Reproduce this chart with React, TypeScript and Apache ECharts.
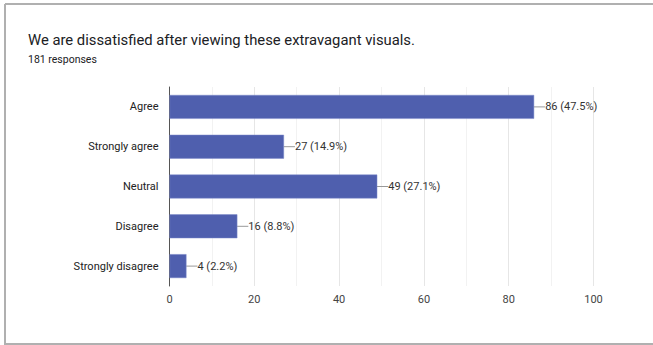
import React, { useEffect, useRef } from "react";
import * as echarts from "echarts";

const title = "We are dissatisfied after viewing these extravagant visuals.";
const subtitle = "181 responses";
const categories = ["Agree", "Strongly agree", "Neutral", "Disagree", "Strongly disagree"];
const counts = [86, 27, 49, 16, 4];
const percents = ["47.5%", "14.9%", "27.1%", "8.8%", "2.2%"];

export default function App() {
  const ref = useRef<HTMLDivElement>(null);
  useEffect(() => {
    if (!ref.current) return;
    const chart = echarts.init(ref.current, null, { renderer: "svg" });
    const font = "Roboto, Arial, sans-serif";
    chart.setOption({
      animation: false,
      backgroundColor: "#ffffff",
      title: [
        {
          text: title,
          left: 28,
          top: 32,
          padding: 0,
          textStyle: { fontFamily: font, fontSize: 14.8, fontWeight: "normal", color: "#202124" },
        },
        {
          text: subtitle,
          left: 28,
          top: 54,
          padding: 0,
          textStyle: { fontFamily: font, fontSize: 10.5, fontWeight: "normal", color: "#202124" },
        },
      ],
      graphic: [
        { type: "line", shape: { x1: 5, y1: 4, x2: 653, y2: 4 }, style: { stroke: "#b0b0b0", lineWidth: 2 } },
        { type: "line", shape: { x1: 5, y1: 4, x2: 5, y2: 345 }, style: { stroke: "#b0b0b0", lineWidth: 2 } },
        { type: "line", shape: { x1: 5, y1: 344, x2: 653, y2: 344 }, style: { stroke: "#b0b0b0", lineWidth: 2 } },
      ],
      grid: { left: 169.5, right: 59.5, top: 87, bottom: 59, containLabel: false },
      xAxis: {
        type: "value",
        min: 0,
        max: 100,
        interval: 20,
        axisLine: { show: false },
        axisTick: { show: false },
        axisLabel: { fontFamily: font, fontSize: 11, color: "#444", margin: 8 },
        splitLine: { show: true, lineStyle: { color: "#e6e6e6", width: 1 } },
        minorTick: { show: false, splitNumber: 2 },
        minorSplitLine: { show: true, lineStyle: { color: "#f2f2f2", width: 1 } },
      },
      yAxis: {
        type: "category",
        inverse: true,
        data: categories,
        axisLine: { show: true, lineStyle: { color: "#555", width: 1 } },
        axisTick: { show: false },
        axisLabel: { fontFamily: font, fontSize: 11, color: "#222", margin: 11 },
      },
      series: [
        {
          type: "bar",
          data: counts,
          barWidth: "60%",
          itemStyle: { color: "#4f5fae", borderColor: "#7d8acb", borderWidth: 0.5 },
          label: {
            show: true,
            position: "right",
            distance: 0,
            fontFamily: font,
            fontSize: 11,
            color: "#333",
            formatter: (p: any) => `${counts[p.dataIndex]} (${percents[p.dataIndex]})`,
          },
          labelLayout: { dx: 11 },
          labelLine: { show: true, lineStyle: { color: "#999", width: 1 } },
        },
      ],
    });
    return () => chart.dispose();
  }, []);
  return <div ref={ref} style={{ position: "absolute", left: 0, top: 0, width: 653, height: 345 }} />;
}
